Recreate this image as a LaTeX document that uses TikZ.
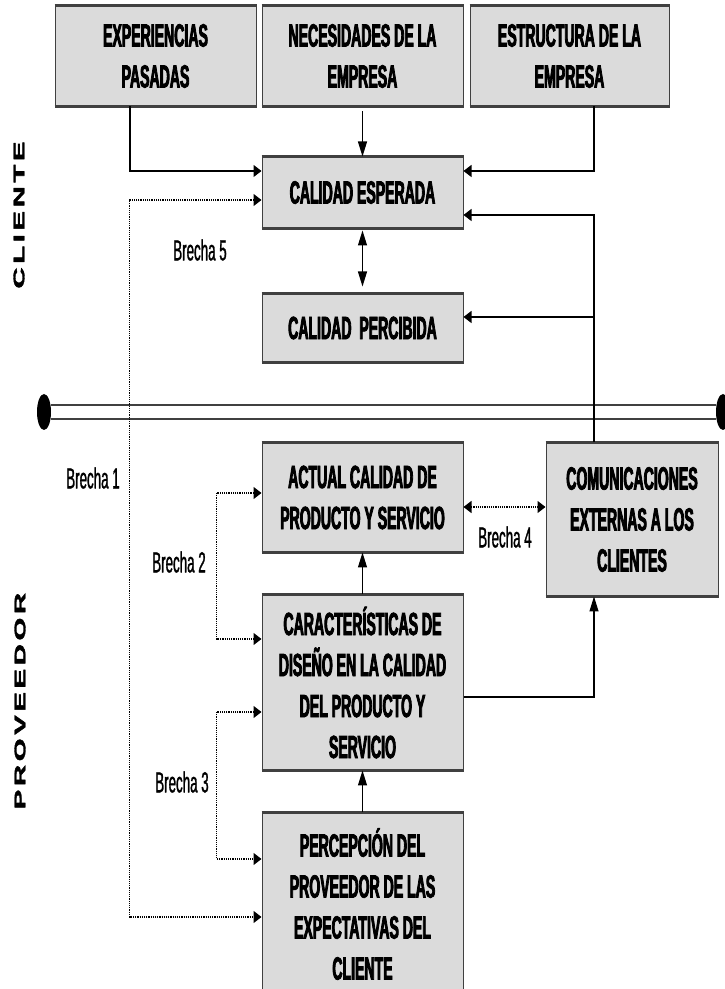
\documentclass[tikz,border=0pt]{standalone}
\usepackage{fontspec}
\usetikzlibrary{arrows.meta,shapes.geometric}
\newfontfamily\cajafont[FakeStretch=0.44,FakeBold=2.5]{Liberation Sans Bold}
\newfontfamily\brechafont[FakeStretch=0.46,FakeBold=1]{Liberation Sans}
\newfontfamily\ladofont[LetterSpace=12,FakeBold=2]{Liberation Sans Bold}
\begin{document}
\begin{tikzpicture}[x=1pt,y=1pt]
	\tikzstyle{caja} = [draw=black!75, fill=gray!28, line width=1pt, align=center, inner sep=0pt, minimum width=201pt, font=\cajafont\fontsize{32}{41}\selectfont];
	\tikzstyle{brecha} = [font=\brechafont\fontsize{29}{34}\selectfont];
	\tikzstyle{lado} = [rotate=90, font=\ladofont\fontsize{15.5}{18}\selectfont];
	\tikzstyle{flecha} = [line width=1.1pt, -{Triangle[length=8pt,width=12pt]}];
	\tikzstyle{flechav} = [line width=1.1pt, -{Triangle[length=15pt,width=9pt]}];
	\tikzstyle{brechalinea} = [line width=1.2pt, densely dotted, {Triangle[length=8pt,width=12pt]}-{Triangle[length=8pt,width=12pt]}];
	\tikzstyle{punto} = [ellipse, fill=black, minimum width=14pt, minimum height=36pt, inner sep=0pt];
	\useasboundingbox (0,0) rectangle (725,989);
	\node[caja, minimum height=100pt] (exp) at (155.5,933) {EXPERIENCIAS\\PASADAS};
	\node[caja, minimum height=100pt] (nec) at (362.5,933) {NECESIDADES DE LA\\EMPRESA};
	\node[caja, minimum height=100pt, minimum width=199pt] (est) at (569.5,933) {ESTRUCTURA DE LA\\EMPRESA};
	\node[caja, minimum height=71pt] (ce) at (362.5,796.5) {CALIDAD ESPERADA};
	\node[caja, minimum height=68pt] (cp) at (362.5,661) {CALIDAD\ \ PERCIBIDA};
	\node[caja, minimum height=109pt] (act) at (362.5,491.5) {ACTUAL CALIDAD DE\\PRODUCTO Y SERVICIO};
	\node[caja, minimum height=153pt, minimum width=172pt] (com) at (632,469.5) {COMUNICACIONES\\EXTERNAS A LOS\\CLIENTES};
	\node[caja, minimum height=175pt] (car) at (362.5,306.5) {CARACTERÍSTICAS DE\\DISEÑO EN LA CALIDAD\\DEL PRODUCTO Y\\SERVICIO};
	\node[caja, minimum height=182pt] (per) at (362.5,85) {PERCEPCIÓN DEL\\PROVEEDOR DE LAS\\EXPECTATIVAS DEL\\CLIENTE};
	\foreach \n in {exp,nec,est,ce,cp,act,com,car,per}
		\draw[line width=2.4pt, black!75] (\n.north west) -- (\n.north east) (\n.south west) -- (\n.south east);
	\node[punto] (izq) at (44,577) {};
	\node[punto] (der) at (723,577) {};
	\draw[black!75, line width=2pt, double=white, double distance=12pt] (izq.east) -- (der.west);
	\coordinate (sube) at ([xshift=-38pt]com.north);
	\coordinate (cpin) at ([yshift=11pt]cp.east);
	\draw[flecha] ([xshift=-25.5pt]exp.south) |- ([yshift=21.5pt]ce.west);
	\draw[flechav] ([yshift=-5pt]nec.south) -- (ce.north);
	\draw[flecha] ([xshift=24.5pt]est.south) |- ([yshift=21.5pt]ce.east);
	\draw[flecha] (sube) |- ([yshift=-22.5pt]ce.east);
	\draw[flecha] (sube |- cpin) -- (cpin);
	\draw[line width=1.1pt, {Triangle[length=15pt,width=9pt]}-{Triangle[length=15pt,width=9pt]}, shorten <=2pt, shorten >=7pt] (ce.south) -- (cp.north);
	\draw[flechav] (car.north) -- (act.south);
	\draw[flechav] (per.north) -- (car.south);
	\draw[flechav] ([yshift=-14.5pt]car.east) -| ([xshift=-38pt]com.south);
	\draw[brechalinea] ([yshift=-7.5pt]ce.west) -- ++(-132pt,0) |- ([yshift=-13pt]per.west);
	\draw[brechalinea] ([yshift=4.5pt]act.west) -- ++(-45pt,0) |- ([yshift=43.5pt]car.west);
	\draw[brechalinea] ([yshift=-29.5pt]car.west) -- ++(-45pt,0) |- ([yshift=45pt]per.west);
	\draw[brechalinea] ([yshift=-9.5pt]act.east) -- ([yshift=12.5pt]com.west);
	\node[brecha] (b5) at (200,739) {Brecha 5};
	\node[brecha] (b1) at (93,511) {Brecha 1};
	\node[brecha] (b2) at (179,427) {Brecha 2};
	\node[brecha] (b3) at (182,207) {Brecha 3};
	\node[brecha] (b4) at (505,452) {Brecha 4};
	\node[lado] (cli) at (19,774) {\scalebox{1.9}[1]{CLIENTE}};
	\node[lado] (pro) at (20,288) {\scalebox{1.9}[1]{PROVEEDOR}};
\end{tikzpicture}
\end{document}
